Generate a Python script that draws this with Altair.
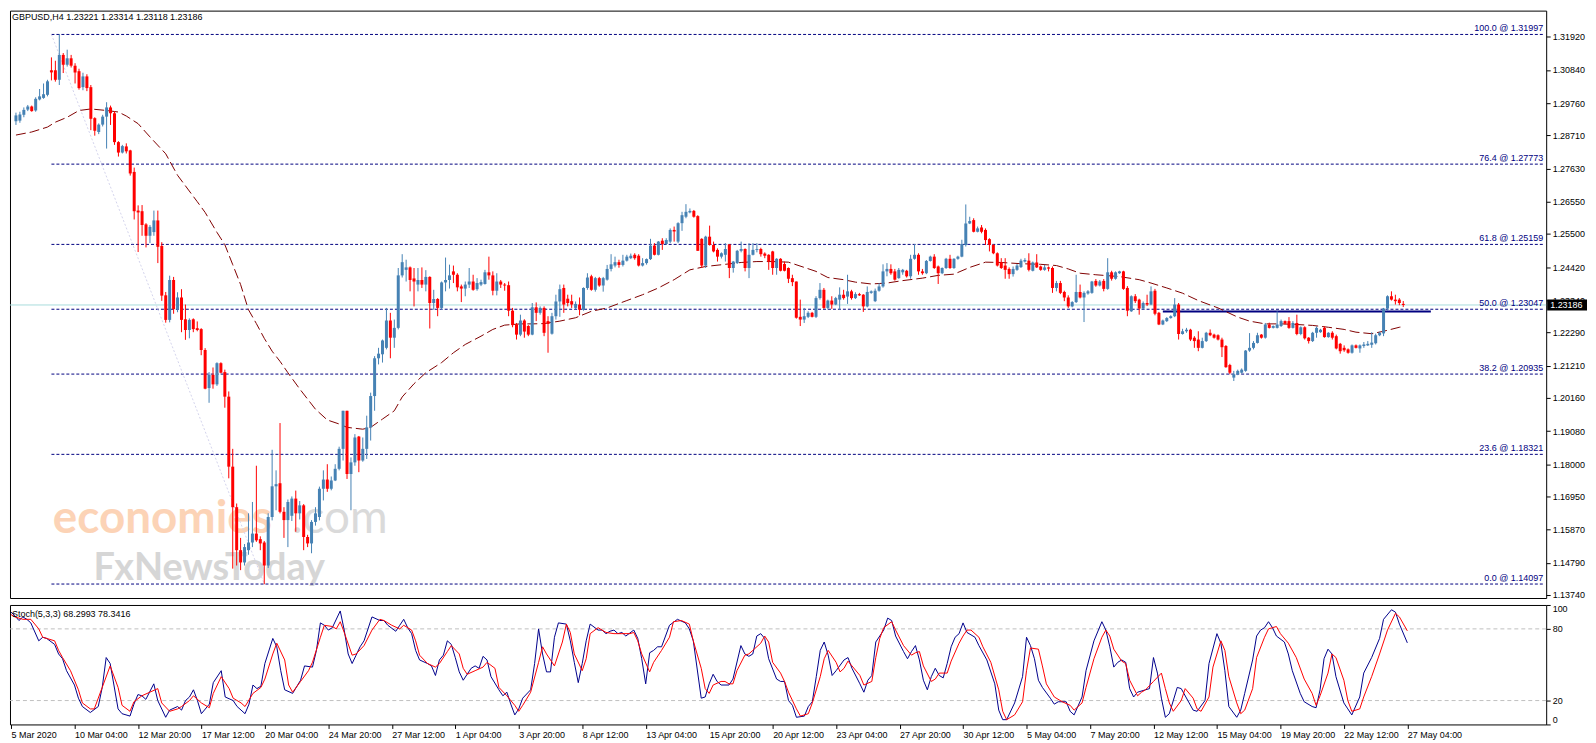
import altair as alt
import pandas as pd

FONT = "Liberation Sans"
title_text = "GBPUSD,H4  1.23221 1.23314 1.23118 1.23186"
stoch_title = "Stoch(5,3,3) 68.2993 78.3416"

opens = [
1.2917,1.2919,1.2938,1.2955,1.2965,1.2952,1.2988,1.2993,1.3003,1.3083,
1.3083,1.3052,1.3133,1.3101,1.3122,1.3098,1.3080,1.3028,1.3063,1.3028,
1.2927,1.2882,1.2906,1.2932,1.2962,1.2943,1.2849,1.2815,1.2835,1.2822,
1.2752,1.2626,1.2624,1.2581,1.2544,1.2556,1.2594,1.2511,1.2350,1.2270,
1.2400,1.2305,1.2343,1.2272,1.2237,1.2272,1.2243,1.2240,1.2172,1.2048,
1.2091,1.2060,1.2129,1.2100,1.2020,1.1792,1.1660,1.1520,1.1480,1.1520,
1.1545,1.1574,1.1556,1.1545,1.1470,1.1628,1.1728,1.1738,1.1645,1.1618,
1.1632,1.1688,1.1640,1.1666,1.1563,1.1542,1.1612,1.1628,1.1720,1.1750,
1.1720,1.1747,1.1785,1.1850,1.1974,1.1768,1.1806,1.1890,1.1812,1.1850,
1.1920,1.2022,1.2145,1.2158,1.2179,1.2268,1.2212,1.2244,1.2415,1.2433,
1.2441,1.2405,1.2385,1.2400,1.2385,1.2410,1.2325,1.2338,1.2309,1.2392,
1.2400,1.2428,1.2417,1.2379,1.2372,1.2385,1.2395,1.2370,1.2385,1.2387,
1.2425,1.2415,1.2365,1.2395,1.2385,1.2383,1.2300,1.2255,1.2222,1.2268,
1.2250,1.2222,1.2311,1.2293,1.2309,1.2266,1.2225,1.2282,1.2330,1.2374,
1.2339,1.2331,1.2309,1.2320,1.2303,1.2374,1.2412,1.2368,1.2406,1.2382,
1.2401,1.2436,1.2447,1.2458,1.2449,1.2463,1.2471,1.2482,1.2479,1.2447,
1.2455,1.2468,1.2512,1.2482,1.2528,1.2517,1.2525,1.2563,1.2525,1.2585,
1.2606,1.2620,1.2625,1.2608,1.2534,1.2447,1.2541,1.2514,1.2498,1.2476,
1.2482,1.2516,1.2439,1.2455,1.2495,1.2501,1.2439,1.2482,1.2498,1.2501,
1.2486,1.2482,1.2493,1.2439,1.2469,1.2452,1.2439,1.2406,1.2395,1.2280,
1.2271,1.2280,1.2293,1.2280,1.2341,1.2368,1.2309,1.2333,1.2320,1.2336,
1.2352,1.2346,1.2363,1.2341,1.2354,1.2352,1.2314,1.2358,1.2331,1.2365,
1.2379,1.2428,1.2436,1.2428,1.2406,1.2425,1.2430,1.2412,1.2469,1.2482,
1.2428,1.2422,1.2462,1.2476,1.2444,1.2422,1.2439,1.2469,1.2439,1.2469,
1.2476,1.2514,1.2584,1.2595,1.2557,1.2571,1.2563,1.2533,1.2514,1.2487,
1.2458,1.2447,1.2436,1.2419,1.2433,1.2442,1.2460,1.2463,1.2430,1.2457,
1.2444,1.2433,1.2441,1.2439,1.2374,1.2390,1.2361,1.2343,1.2314,1.2328,
1.2361,1.2343,1.2356,1.2358,1.2397,1.2382,1.2397,1.2371,1.2425,1.2404,
1.2422,1.2428,1.2374,1.2298,1.2347,1.2336,1.2307,1.2325,1.2320,1.2365,
1.2293,1.2255,1.2266,1.2276,1.2282,1.2320,1.2224,1.2233,1.2238,1.2212,
1.2206,1.2179,1.2201,1.2228,1.2222,1.2220,1.2206,1.2185,1.2123,1.2082,
1.2093,1.2098,1.2104,1.2170,1.2179,1.2195,1.2222,1.2212,1.2255,1.2244,
1.2244,1.2250,1.2266,1.2266,1.2244,1.2260,1.2224,1.2246,1.2212,1.2201,
1.2228,1.2230,1.2244,1.2214,1.2228,1.2217,1.2192,1.2179,1.2174,1.2163,
1.2187,1.2177,1.2185,1.2187,1.2189,1.2194,1.2220,1.2226,1.2307,1.2347,
1.2336,1.2336,1.23221]

highs = [
1.2945,1.2948,1.2962,1.2970,1.2968,1.2995,1.3022,1.3040,1.3052,1.3125,
1.3114,1.3201,1.3139,1.3150,1.3133,1.3106,1.3088,1.3075,1.3070,1.3035,
1.2930,1.2910,1.2938,1.2979,1.2968,1.2950,1.2852,1.2840,1.2845,1.2824,
1.2766,1.2643,1.2644,1.2585,1.2579,1.2626,1.2626,1.2523,1.2361,1.2414,
1.2410,1.2360,1.2370,1.2320,1.2275,1.2275,1.2265,1.2243,1.2178,1.2100,
1.2115,1.2132,1.2132,1.2108,1.2037,1.1850,1.1672,1.1560,1.1540,1.1640,
1.1677,1.1795,1.1565,1.1550,1.1640,1.1847,1.1780,1.1934,1.1660,1.1685,
1.1695,1.1714,1.1680,1.1670,1.1570,1.1618,1.1660,1.1727,1.1780,1.1800,
1.1760,1.1800,1.1857,1.1974,1.1974,1.1822,1.1898,1.1892,1.1887,1.1958,
1.2033,1.2152,1.2179,1.2206,1.2309,1.2293,1.2271,1.2439,1.2484,1.2466,
1.2444,1.2439,1.2439,1.2441,1.2432,1.2412,1.2368,1.2341,1.2395,1.2473,
1.2450,1.2447,1.2422,1.2385,1.2395,1.2439,1.2417,1.2406,1.2401,1.2433,
1.2476,1.2428,1.2422,1.2400,1.2390,1.2395,1.2309,1.2260,1.2287,1.2272,
1.2253,1.2325,1.2327,1.2314,1.2314,1.2282,1.2293,1.2352,1.2385,1.2385,
1.2352,1.2352,1.2330,1.2343,1.2376,1.2422,1.2417,1.2410,1.2410,1.2410,
1.2449,1.2484,1.2476,1.2466,1.2482,1.2482,1.2486,1.2487,1.2484,1.2471,
1.2470,1.2534,1.2520,1.2527,1.2536,1.2536,1.2568,1.2574,1.2588,1.2622,
1.2647,1.2633,1.2628,1.2611,1.2536,1.2544,1.2577,1.2525,1.2503,1.2490,
1.2520,1.2516,1.2462,1.2498,1.2525,1.2503,1.2520,1.2520,1.2520,1.2505,
1.2490,1.2484,1.2495,1.2471,1.2471,1.2460,1.2441,1.2417,1.2395,1.2336,
1.2309,1.2298,1.2296,1.2347,1.2390,1.2374,1.2336,1.2347,1.2345,1.2376,
1.2368,1.2417,1.2368,1.2360,1.2358,1.2354,1.2379,1.2366,1.2372,1.2390,
1.2451,1.2455,1.2451,1.2436,1.2439,1.2436,1.2433,1.2482,1.2517,1.2487,
1.2436,1.2465,1.2479,1.2484,1.2447,1.2441,1.2472,1.2482,1.2471,1.2479,
1.2531,1.2646,1.2606,1.2601,1.2574,1.2579,1.2568,1.2536,1.2517,1.2490,
1.2471,1.2471,1.2441,1.2444,1.2452,1.2469,1.2471,1.2487,1.2460,1.2484,
1.2447,1.2449,1.2444,1.2444,1.2397,1.2397,1.2365,1.2350,1.2331,1.2417,
1.2385,1.2363,1.2367,1.2397,1.2403,1.2400,1.2403,1.2471,1.2430,1.2428,
1.2430,1.2430,1.2380,1.2350,1.2354,1.2339,1.2330,1.2352,1.2379,1.2371,
1.2296,1.2271,1.2279,1.2285,1.2341,1.2325,1.2241,1.2244,1.2241,1.2217,
1.2233,1.2212,1.2231,1.2239,1.2225,1.2223,1.2212,1.2188,1.2127,1.2104,
1.2108,1.2112,1.2172,1.2227,1.2201,1.2228,1.2224,1.2260,1.2261,1.2252,
1.2298,1.2271,1.2268,1.2279,1.2266,1.2287,1.2249,1.2249,1.2214,1.2231,
1.2249,1.2241,1.2249,1.2230,1.2233,1.2222,1.2195,1.2187,1.2177,1.2190,
1.2190,1.2190,1.2198,1.2201,1.2230,1.2225,1.2231,1.2309,1.2350,1.2363,
1.2352,1.2341,1.23314]

lows = [
1.2905,1.2912,1.2930,1.2950,1.2948,1.2948,1.2985,1.2990,1.2998,1.3050,
1.3046,1.3035,1.3074,1.3095,1.3092,1.3040,1.3020,1.3018,1.3015,1.2888,
1.2870,1.2875,1.2900,1.2828,1.2905,1.2840,1.2802,1.2812,1.2812,1.2740,
1.2597,1.2491,1.2544,1.2506,1.2520,1.2544,1.2455,1.2332,1.2261,1.2262,
1.2290,1.2295,1.2230,1.2205,1.2210,1.2230,1.2233,1.2155,1.2044,1.2000,
1.2046,1.2055,1.2096,1.1984,1.1754,1.1460,1.1470,1.1455,1.1470,1.1505,
1.1530,1.1547,1.1520,1.1409,1.1462,1.1617,1.1650,1.1640,1.1560,1.1530,
1.1615,1.1580,1.1620,1.1520,1.1530,1.1510,1.1600,1.1617,1.1682,1.1710,
1.1715,1.1745,1.1780,1.1812,1.1752,1.1650,1.1795,1.1774,1.1808,1.1817,
1.1877,1.1974,1.2125,1.2131,1.2174,1.2145,1.2179,1.2239,1.2408,1.2395,
1.2363,1.2314,1.2363,1.2374,1.2363,1.2242,1.2303,1.2282,1.2303,1.2363,
1.2372,1.2390,1.2363,1.2328,1.2347,1.2374,1.2365,1.2365,1.2380,1.2385,
1.2401,1.2350,1.2350,1.2374,1.2365,1.2282,1.2246,1.2206,1.2217,1.2212,
1.2217,1.2220,1.2266,1.2287,1.2217,1.2163,1.2222,1.2271,1.2280,1.2293,
1.2314,1.2309,1.2305,1.2285,1.2300,1.2368,1.2365,1.2362,1.2378,1.2362,
1.2398,1.2428,1.2441,1.2440,1.2444,1.2460,1.2468,1.2466,1.2444,1.2444,
1.2450,1.2465,1.2480,1.2480,1.2498,1.2515,1.2520,1.2525,1.2520,1.2560,
1.2601,1.2617,1.2603,1.2495,1.2439,1.2439,1.2512,1.2490,1.2460,1.2470,
1.2460,1.2406,1.2424,1.2452,1.2490,1.2428,1.2406,1.2480,1.2490,1.2476,
1.2471,1.2433,1.2417,1.2417,1.2428,1.2428,1.2390,1.2380,1.2274,1.2250,
1.2260,1.2276,1.2278,1.2276,1.2336,1.2306,1.2304,1.2306,1.2318,1.2303,
1.2336,1.2322,1.2336,1.2338,1.2348,1.2296,1.2311,1.2355,1.2328,1.2362,
1.2375,1.2412,1.2417,1.2398,1.2404,1.2417,1.2408,1.2404,1.2466,1.2417,
1.2417,1.2419,1.2460,1.2436,1.2387,1.2419,1.2436,1.2436,1.2436,1.2466,
1.2474,1.2509,1.2582,1.2555,1.2555,1.2552,1.2514,1.2493,1.2484,1.2444,
1.2436,1.2404,1.2404,1.2411,1.2430,1.2439,1.2457,1.2428,1.2428,1.2439,
1.2430,1.2430,1.2428,1.2358,1.2363,1.2354,1.2331,1.2309,1.2311,1.2325,
1.2340,1.2263,1.2352,1.2355,1.2378,1.2379,1.2363,1.2368,1.2398,1.2401,
1.2420,1.2368,1.2282,1.2296,1.2325,1.2287,1.2304,1.2315,1.2318,1.2285,
1.2253,1.2253,1.2263,1.2274,1.2279,1.2206,1.2222,1.2228,1.2201,1.2179,
1.2168,1.2177,1.2198,1.2217,1.2209,1.2203,1.2149,1.2114,1.2093,1.2071,
1.2090,1.2095,1.2101,1.2166,1.2174,1.2193,1.2209,1.2209,1.2242,1.2242,
1.2242,1.2247,1.2255,1.2241,1.2242,1.2220,1.2220,1.2206,1.2193,1.2198,
1.2212,1.2228,1.2212,1.2212,1.2206,1.2174,1.2160,1.2166,1.2160,1.2160,
1.2177,1.2163,1.2179,1.2185,1.2179,1.2190,1.2217,1.2217,1.2300,1.2333,
1.2320,1.2318,1.23118]

closes = [
1.2936,1.2939,1.2954,1.2965,1.2950,1.2990,1.2998,1.3005,1.3047,1.3076,
1.3052,1.3133,1.3101,1.3122,1.3098,1.3076,1.3025,1.3063,1.3025,1.2925,
1.2886,1.2906,1.2932,1.2962,1.2943,1.2849,1.2815,1.2836,1.2819,1.2747,
1.2624,1.2620,1.2579,1.2544,1.2573,1.2594,1.2508,1.2349,1.2270,1.2400,
1.2305,1.2343,1.2270,1.2237,1.2270,1.2240,1.2237,1.2172,1.2046,1.2091,
1.2060,1.2129,1.2098,1.2020,1.1792,1.1660,1.1520,1.1480,1.1530,1.1545,
1.1574,1.1552,1.1542,1.1470,1.1628,1.1728,1.1735,1.1645,1.1618,1.1677,
1.1688,1.1640,1.1666,1.1563,1.1542,1.1612,1.1640,1.1720,1.1750,1.1720,
1.1747,1.1785,1.1850,1.1974,1.1768,1.1806,1.1887,1.1812,1.1850,1.1920,
1.2022,1.2145,1.2160,1.2203,1.2268,1.2212,1.2244,1.2415,1.2458,1.2441,
1.2400,1.2395,1.2400,1.2385,1.2410,1.2325,1.2338,1.2309,1.2392,1.2400,
1.2415,1.2417,1.2376,1.2372,1.2385,1.2395,1.2368,1.2390,1.2393,1.2425,
1.2415,1.2365,1.2395,1.2385,1.2382,1.2300,1.2253,1.2222,1.2268,1.2232,
1.2222,1.2311,1.2293,1.2309,1.2228,1.2257,1.2282,1.2330,1.2370,1.2320,
1.2325,1.2320,1.2322,1.2303,1.2374,1.2408,1.2368,1.2406,1.2382,1.2406,
1.2436,1.2451,1.2458,1.2449,1.2463,1.2476,1.2479,1.2471,1.2447,1.2455,
1.2468,1.2512,1.2482,1.2525,1.2517,1.2530,1.2563,1.2558,1.2585,1.2611,
1.2622,1.2625,1.2606,1.2495,1.2447,1.2541,1.2514,1.2493,1.2476,1.2487,
1.2501,1.2439,1.2460,1.2495,1.2501,1.2439,1.2482,1.2498,1.2501,1.2484,
1.2479,1.2460,1.2439,1.2469,1.2430,1.2430,1.2404,1.2393,1.2277,1.2271,
1.2282,1.2293,1.2280,1.2341,1.2368,1.2309,1.2333,1.2320,1.2341,1.2352,
1.2341,1.2363,1.2341,1.2354,1.2350,1.2314,1.2361,1.2363,1.2365,1.2379,
1.2428,1.2436,1.2422,1.2401,1.2433,1.2433,1.2412,1.2469,1.2482,1.2428,
1.2422,1.2462,1.2476,1.2439,1.2422,1.2439,1.2469,1.2439,1.2469,1.2476,
1.2517,1.2584,1.2592,1.2557,1.2568,1.2557,1.2530,1.2514,1.2487,1.2447,
1.2439,1.2433,1.2419,1.2436,1.2447,1.2463,1.2465,1.2433,1.2457,1.2441,
1.2433,1.2441,1.2437,1.2374,1.2390,1.2358,1.2343,1.2314,1.2328,1.2361,
1.2343,1.2358,1.2363,1.2395,1.2382,1.2395,1.2371,1.2425,1.2404,1.2425,
1.2428,1.2371,1.2300,1.2347,1.2331,1.2307,1.2325,1.2320,1.2363,1.2290,
1.2255,1.2268,1.2276,1.2282,1.2320,1.2224,1.2233,1.2238,1.2206,1.2201,
1.2179,1.2201,1.2228,1.2220,1.2212,1.2206,1.2181,1.2116,1.2098,1.2093,
1.2104,1.2108,1.2170,1.2179,1.2195,1.2220,1.2212,1.2255,1.2244,1.2250,
1.2255,1.2266,1.2258,1.2244,1.2260,1.2224,1.2246,1.2210,1.2201,1.2228,
1.2244,1.2238,1.2214,1.2228,1.2212,1.2177,1.2168,1.2171,1.2163,1.2187,
1.2179,1.2187,1.2190,1.2192,1.2196,1.2220,1.2228,1.2307,1.2347,1.2336,
1.2331,1.2325,1.23186]

ma_bars = [0,4,8,10,13,16,19,23,26,28,31,34,38,41,46,
           48,51,53,55,57,59,61,63,65,67,69,72,74,
           76,79,82,84,88,90,93,96,98,101,104,108,111,114,118,121,124,128,131,134,138,
           142,146,150,155,159,163,167,171,175,180,184,188,192,196,200,203,206,210,213,
           217,221,225,230,234,238,242,246,250,255,260,264,267,270,274,277,280,285,288,
           292,296,300,305,310,313,317,321,325,329,333,337,340,344,347,351,352]
ma_vals = [1.2872,1.2882,1.2898,1.2914,1.2930,1.2952,1.2957,1.2952,1.2947,1.2934,1.2909,1.2866,1.2811,1.2741,1.2655,
           1.2620,1.2555,1.2515,1.2450,1.2385,1.2303,1.2258,1.2210,1.2168,1.2135,1.2098,1.2045,1.2012,
           1.1979,1.1944,1.1931,1.1920,1.1914,1.1920,1.1947,1.1974,1.2019,1.2062,1.2098,1.2131,1.2163,1.2190,1.2217,1.2239,1.2253,1.2257,1.2257,1.2258,1.2266,
           1.2277,1.2298,1.2309,1.2333,1.2352,1.2374,1.2401,1.2433,1.2444,1.2451,1.2457,1.2460,1.2460,1.2458,1.2441,1.2428,1.2408,1.2401,1.2393,
           1.2387,1.2390,1.2398,1.2406,1.2415,1.2419,1.2441,1.2458,1.2457,1.2453,1.2451,1.2447,1.2436,1.2422,1.2417,1.2414,1.2411,1.2401,1.2390,
           1.2374,1.2357,1.2333,1.2309,1.2279,1.2266,1.2257,1.2257,1.2255,1.2252,1.2246,1.2239,1.2230,1.2225,1.2233,1.2246,1.2248]

k_bars = [
0,1,2,3,4,5,7,8,9,11,
12,13,14,16,17,18,20,22,23,24,
25,27,28,30,31,32,33,34,36,37,
39,40,42,43,44,45,46,47,48,50,
51,53,54,56,57,59,60,61,62,63,
64,66,67,68,69,71,73,74,76,77,
78,79,80,81,83,84,85,86,87,88,
89,91,93,94,95,97,98,99,100,101,
102,103,105,106,107,108,109,110,111,112,
113,114,115,116,117,118,119,120,121,123,
124,125,126,127,128,129,131,132,133,134,
135,136,137,138,140,141,142,143,144,145,
146,148,149,150,151,152,153,154,155,157,
158,159,160,161,162,163,164,166,168,170,
171,172,
174,175,176,177,178,179,181,182,184,185,
186,187,188,189,190,191,193,194,195,196,
197,198,200,201,202,203,204,205,206,207,
208,210,211,212,214,215,216,217,218,220,
221,222,223,225,226,227,228,229,230,231,
232,233,234,235,236,237,238,239,240,241,
243,244,246,248,249,250,251,253,255,256,
257,258,259,260,262,263,264,266,267,268,
270,271,273,275,276,277,278,279,280,281,
282,283,284,286,287,288,289,290,291,292,
294,295,297,298,299,301,302,304,305,306,
307,309,310,311,313,314,315,316,317,318,
319,321,322,323,325,326,328,329,330,331,
332,333,334,336,337,338,340,341,343,345,
346,348,349,350,352]
k_vals = [
94,91,87,90,88,85,70,73,72,67,
59,55,45,33,22,15,10,15,31,56,
51,13,9,7,17,25,24,21,34,20,
6,12,15,12,20,23,29,20,9,17,
35,45,23,20,15,9,17,33,30,32,
51,72,65,45,29,26,37,49,48,62,
85,83,79,81,95,79,59,51,58,65,
70,90,87,87,83,78,83,88,81,76,
62,54,51,49,41,54,58,70,67,56,
44,37,42,47,49,47,57,54,40,29,
24,27,17,8,13,22,29,51,80,59,
44,44,73,85,84,70,52,35,51,70,
84,79,79,76,78,79,76,77,74,79,
72,55,34,60,62,65,65,83,88,85,
80,70,
22,23,34,42,36,33,33,38,66,59,
57,59,74,76,72,55,38,36,36,20,
16,6,7,15,19,40,62,69,58,41,
45,54,56,47,34,27,37,41,69,79,
89,87,74,61,55,61,66,54,37,29,
40,47,41,39,51,65,73,76,85,77,
73,66,54,34,12,4,4,18,40,73,
66,55,37,31,22,17,19,19,11,8,
23,45,70,86,79,65,48,52,54,52,
30,23,27,29,30,56,43,22,6,9,
31,30,18,12,11,20,51,76,68,45,
15,6,12,26,54,74,79,81,86,81,
74,69,59,45,26,19,15,14,29,55,
63,59,40,18,13,8,23,43,56,72,
88,96,94,84,68.2993]

d_bars = [
0,1,3,5,7,8,11,12,13,15,
17,18,20,21,22,25,27,28,30,31,
33,35,37,38,40,42,43,45,46,48,
50,51,53,55,56,58,59,61,63,64,
66,67,69,70,71,73,75,76,78,79,
81,82,83,84,86,87,89,91,93,94,
96,98,99,101,102,103,105,107,108,110,
111,113,114,115,117,119,120,122,123,125,
127,128,129,131,133,134,135,137,139,140,
141,142,144,145,146,148,150,152,154,156,
157,158,159,161,162,164,166,167,169,171,
172,
174,175,176,177,179,180,181,182,183,185,
186,187,189,190,191,192,194,195,196,197,
198,199,201,202,204,205,206,208,209,210,
211,212,214,215,217,218,219,220,222,223,
225,227,228,229,230,232,233,234,236,237,
239,240,241,242,244,245,247,249,250,251,
253,255,256,257,259,260,261,263,265,267,
268,270,271,273,275,276,277,278,280,281,
282,284,285,286,288,290,291,292,293,295,
296,298,299,300,302,303,305,306,307,309,
310,311,313,314,316,317,319,320,322,324,
326,328,329,330,332,333,334,336,337,338,
340,341,343,345,347,349,350,352]
d_vals = [
92,90,88,88,80,73,70,62,56,45,
29,18,13,13,22,49,31,16,11,19,
24,27,30,18,11,13,15,20,24,18,
14,26,40,30,22,18,15,26,31,38,
59,68,54,33,27,36,45,52,73,83,
82,80,86,77,58,59,66,79,88,87,
83,80,83,79,70,58,51,48,51,61,
66,59,47,42,45,48,52,47,31,24,
16,11,16,27,52,65,59,49,69,84,
77,59,45,55,76,81,77,76,76,76,
77,70,59,44,52,62,73,86,87,84,
70,
47,30,26,33,36,36,34,34,45,58,
59,62,68,74,69,52,43,36,27,20,
13,7,9,18,40,55,62,52,44,47,
53,49,41,33,36,56,72,81,86,79,
66,58,60,61,49,36,38,43,43,53,
68,74,79,79,73,65,52,29,11,4,
8,19,45,64,63,49,34,23,19,16,
12,18,31,55,73,79,74,63,53,51,
37,24,27,29,36,43,30,18,11,20,
30,22,13,11,23,48,70,62,40,18,
9,12,30,56,73,80,82,76,68,56,
38,26,16,24,43,59,56,37,20,11,
13,23,40,59,79,93,90,78.3416]

price_ticks = [1.13740,1.14790,1.15870,1.16950,1.18000,1.19080,1.20160,1.21210,1.22290,
               1.23340,1.24420,1.25500,1.26550,1.27630,1.28710,1.29760,1.30840,1.31920]
time_label_bars = [0,16,32,48,64,80,96,112,128,144,160,176,192,208,224,240,256,272,288,304,320,336,352]
time_labels = ["5 Mar 2020","10 Mar 04:00","12 Mar 20:00","17 Mar 12:00","20 Mar 04:00","24 Mar 20:00",
               "27 Mar 12:00","1 Apr 04:00","3 Apr 20:00","8 Apr 12:00","13 Apr 04:00","15 Apr 20:00",
               "20 Apr 12:00","23 Apr 04:00","27 Apr 20:00","30 Apr 12:00","5 May 04:00","7 May 20:00",
               "12 May 12:00","15 May 04:00","19 May 20:00","22 May 12:00","27 May 04:00"]

fib_levels = ["100.0","76.4","61.8","50.0","38.2","23.6","0.0"]
fib_prices = [1.31997,1.27773,1.25159,1.23047,1.20935,1.18321,1.14097]
fib_start_bar = 9
fib_anchor_bars = [9, 63]
fib_anchor_prices = [1.31997, 1.14097]
last_price = 1.23186
hline_bars = [291, 359]
hline_price = 1.2297
stoch_levels = [20, 80]
stoch_ticks = [0, 20, 80, 100]

assert len(opens) == len(highs) == len(lows) == len(closes)
assert len(ma_bars) == len(ma_vals)
assert len(k_bars) == len(k_vals)
assert len(d_bars) == len(d_vals)

# ---------------------------------------------------------------- layout
W, HM, HS = 1543, 590, 120
xs = alt.Scale(domain=[-0.25, 387.0], nice=False, zero=False)
ys = alt.Scale(domain=[1.13642, 1.32773], nice=False, zero=False)
ss = alt.Scale(domain=[0, 100], nice=False, zero=False)

candles = pd.DataFrame({"bar": list(range(len(closes))), "open": opens, "high": highs,
                        "low": lows, "close": closes})
candles["dir"] = ["up" if c >= o else "down" for o, c in zip(opens, closes)]
ccol = alt.Color("dir:N", scale=alt.Scale(domain=["up", "down"], range=["#4682B4", "#FF0000"]), legend=None)

price_axis = alt.Axis(orient="right", values=price_ticks, format=".5f", labelFont=FONT, labelFontSize=9,
                      labelColor="black", tickColor="black", tickSize=4, labelPadding=2,
                      domain=False, grid=False, title=None, labelOverlap=False)

def X(f):
    return alt.X(f, type="quantitative", scale=xs, axis=None)

def Y(f):
    return alt.Y(f, type="quantitative", scale=ys, axis=price_axis)

last_df = pd.DataFrame({"p": [last_price]})
bid_line = alt.Chart(last_df).mark_rule(color="#a8dcdc", strokeWidth=1).encode(y=Y("p"))

fib_df = pd.DataFrame({"price": fib_prices, "start": [fib_start_bar] * len(fib_prices),
                       "label": [f"{l} @ {p:.5f}" for l, p in zip(fib_levels, fib_prices)]})
fib_lines = alt.Chart(fib_df).mark_rule(color="#000080", strokeWidth=1, strokeDash=[3, 2]).encode(
    x=X("start"), x2=alt.value(W - 3), y=Y("price"))
fib_text = alt.Chart(fib_df).mark_text(align="right", baseline="alphabetic", dy=-3, font=FONT,
                                       fontSize=9, color="#000080").encode(
    x=alt.value(W - 3), y=Y("price"), text="label:N")

diag_df = pd.DataFrame({"b0": [fib_anchor_bars[0]], "b1": [fib_anchor_bars[1]],
                        "p0": [fib_anchor_prices[0]], "p1": [fib_anchor_prices[1]]})
diag = alt.Chart(diag_df).mark_rule(color="#d4d4ec", strokeWidth=1, strokeDash=[2, 2]).encode(
    x=X("b0"), x2="b1:Q", y=Y("p0"), y2="p1:Q")

hl_df = pd.DataFrame({"b0": [hline_bars[0]], "b1": [hline_bars[1]], "p": [hline_price]})
hline = alt.Chart(hl_df).mark_rule(color="#000080", strokeWidth=2).encode(
    x=X("b0"), x2="b1:Q", y=Y("p"))

ma_df = pd.DataFrame({"bar": ma_bars, "ma": ma_vals})
ma_line = alt.Chart(ma_df).mark_line(color="#800000", strokeWidth=1, strokeDash=[10, 4]).encode(
    x=X("bar"), y=Y("ma"))

wicks = alt.Chart(candles).mark_rule(strokeWidth=1).encode(
    x=X("bar"), y=Y("low"), y2="high:Q", color=ccol)
bodies = alt.Chart(candles).mark_bar(size=3).encode(
    x=X("bar"), y=Y("open"), y2="close:Q", color=ccol)

title_mark = alt.Chart(pd.DataFrame({"t": [title_text]})).mark_text(
    align="left", baseline="top", font=FONT, fontSize=9, color="black").encode(
    x=alt.value(2), y=alt.value(2), text="t:N")

wm1 = alt.Chart(pd.DataFrame({"t": ["economies"]})).mark_text(
    align="left", baseline="alphabetic", font="Lato", fontSize=46, fontWeight="bold",
    color="#fcd3b6").encode(x=alt.value(43), y=alt.value(525), text="t:N")
wm2 = alt.Chart(pd.DataFrame({"t": [".com"]})).mark_text(
    align="left", baseline="alphabetic", font="Lato", fontSize=46, color="#dadada").encode(
    x=alt.value(283), y=alt.value(525), text="t:N")
wm3 = alt.Chart(pd.DataFrame({"t": ["FxNewsToday"]})).mark_text(
    align="left", baseline="alphabetic", font="Lato", fontSize=38, fontWeight="bold",
    color="#d6d6d6").encode(x=alt.value(84), y=alt.value(572), text="t:N")

box = alt.Chart(last_df).mark_rect(color="black", yOffset=-5.5, y2Offset=5.5).encode(
    x=alt.value(W + 1), x2=alt.value(W + 41), y=Y("p"), y2="p:Q")
box_text = alt.Chart(last_df).mark_text(align="left", baseline="middle", font=FONT, fontSize=9,
                                        color="white").encode(
    x=alt.value(W + 4), y=Y("p"), text=alt.Text("p:Q", format=".5f"))

main = alt.layer(bid_line, wm1, wm2, wm3, fib_lines, diag, hline, ma_line, wicks, bodies, fib_text,
                 title_mark, box, box_text).properties(width=W, height=HM)

# ---------------------------------------------------------------- stochastic
stoch_axis = alt.Axis(orient="right", values=stoch_ticks, labelFlush=True, labelFont=FONT, labelFontSize=9,
                      labelColor="black", tickColor="black", tickSize=4, labelPadding=2,
                      domain=False, grid=False, title=None)
lab_expr = ("[" + ",".join(f"'{t}'" for t in time_labels) + "][indexof(["
            + ",".join(str(b) for b in time_label_bars) + "], datum.value)]")
time_axis = alt.Axis(orient="bottom", values=time_label_bars, labelExpr=lab_expr, labelAlign="left",
                     labelFlush=False, labelOverlap=False, labelFont=FONT, labelFontSize=9,
                     labelColor="black", tickColor="black", tickSize=4, labelPadding=2,
                     domain=False, grid=False, title=None)

def SX(f):
    return alt.X(f, type="quantitative", scale=xs, axis=time_axis)

def SY(f):
    return alt.Y(f, type="quantitative", scale=ss, axis=stoch_axis)

lv = alt.Chart(pd.DataFrame({"lv": stoch_levels})).mark_rule(color="#c0c0c0", strokeDash=[4, 3]).encode(
    y=SY("lv"))
k_line = alt.Chart(pd.DataFrame({"bar": k_bars, "v": k_vals})).mark_line(color="#00008B", strokeWidth=1).encode(
    x=SX("bar"), y=SY("v"))
d_line = alt.Chart(pd.DataFrame({"bar": d_bars, "v": d_vals})).mark_line(color="#FF0000", strokeWidth=1).encode(
    x=SX("bar"), y=SY("v"))
st_title = alt.Chart(pd.DataFrame({"t": [stoch_title]})).mark_text(
    align="left", baseline="top", font=FONT, fontSize=9, color="black").encode(
    x=alt.value(2), y=alt.value(5), text="t:N")

stoch = alt.layer(lv, k_line, d_line, st_title).properties(width=W, height=HS)

chart = alt.vconcat(main, stoch, spacing=3, padding=0, background="white").configure_view(
    stroke="black", strokeWidth=1)

chart.save("out.html", embed_options={"renderer": "svg", "actions": False})
